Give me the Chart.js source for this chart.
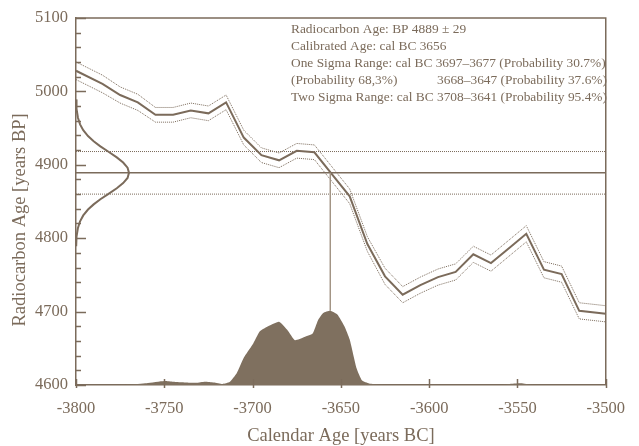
<!DOCTYPE html>
<html>
<head>
<meta charset="utf-8">
<script src="https://cdn.jsdelivr.net/npm/chart.js@4.4.1/dist/chart.umd.min.js"></script>
<style>
  html, body { margin: 0; padding: 0; background: #fff; }
  #wrap { width: 639px; height: 446px; }
</style>
</head>
<body>
<div id="wrap"><canvas id="calChart" width="639" height="446"></canvas></div>
<script>
// calibration curve (cal BC as negative years) with its 1-sigma band
const calYears = [-3800, -3785, -3775, -3765, -3755, -3745, -3735, -3725, -3715, -3705,
                  -3695, -3685, -3675, -3665, -3655, -3645, -3635, -3625, -3615, -3605,
                  -3595, -3585, -3575, -3565, -3555, -3545, -3535, -3525, -3515, -3500];
const calAge = [5028, 5010, 4995, 4985, 4968, 4968, 4974, 4970, 4985, 4937,
                4913, 4906, 4919, 4917, 4887, 4857, 4792, 4748, 4723, 4736,
                4747, 4754, 4778, 4766, 4786, 4806, 4757, 4751, 4701, 4697];
const calSigma = [12, 12, 11, 11, 10, 10, 10, 10, 10, 10,
                  10, 10, 10, 10, 10, 10, 10, 11, 11, 11,
                  11, 11, 11, 11, 11, 11, 11, 11, 11, 11];

// measured sample
const measuredAge = 4889;
const measuredSigma = 29;
const calibratedYear = -3656;

// normal distribution of the measurement, drawn against the y axis (width in years)
const gaussAges  = [4989, 4976, 4964, 4955, 4947, 4939, 4932, 4925, 4918, 4910, 4903, 4896, 4889,
                    4882, 4875, 4868, 4860, 4853, 4846, 4839, 4831, 4823, 4814, 4802, 4789];
const gaussWidth = [0.1, 0.3, 1.1, 2.3, 4.1, 6.8, 10.0, 13.8, 18.2, 23.1, 26.7, 29.2, 30.0,
                    29.2, 26.7, 23.1, 18.2, 13.8, 10.0, 6.8, 4.1, 2.3, 1.1, 0.3, 0.1];

// calibrated probability distribution (height above the axis, in BP units)
const densityYears = [-3800, -3780, -3770, -3760, -3750, -3745, -3738, -3732, -3727, -3722,
                      -3717, -3713, -3709, -3705, -3700, -3696, -3692, -3685, -3680, -3676,
                      -3671, -3666, -3663, -3660, -3656, -3652, -3648, -3645, -3641, -3638,
                      -3634, -3628, -3620, -3560, -3555, -3548, -3542, -3538, -3500];
const densityHeight = [0, 0, 0.8, 2.5, 5.5, 4.5, 3.5, 3, 4.5, 3.5,
                       1.5, 4, 16, 37, 55, 73, 79, 86, 74, 61,
                       65, 70, 88, 98, 101, 96, 80, 62, 22, 6,
                       2, 0.5, 0, 0, 1.5, 2.5, 0.5, 0, 0];

const yTicks = [4600, 4700, 4800, 4900, 5000, 5100];
const xTicks = [-3800, -3750, -3700, -3650, -3600, -3550, -3500];

const yTitle = 'Radiocarbon Age [years BP]';
const xTitle = 'Calendar Age [years BC]';
const infoLines = [
  'Radiocarbon Age: BP 4889 \u00b1 29',
  'Calibrated Age: cal BC 3656',
  'One Sigma Range: cal BC 3697\u20133677 (Probability 30.7%)',
  '(Probability 68,3%)',
  'Two Sigma Range: cal BC 3708\u20133641 (Probability 95.4%)'
];
const infoSecondRange = '3668\u20133647 (Probability 37.6%)';

const ink = '#7b6b5b';
const fillInk = '#7f705f';
const serif = '"Liberation Serif", "DejaVu Serif", serif';

const pts = (xs, ys) => xs.map((x, i) => ({ x: x, y: ys[i] }));
const xMin = -3800, xMax = -3500, yMin = 4600, yMax = 5100;

// inside ticks, top/right frame, y title and the text block
const frame = {
  id: 'frame',
  afterDraw(chart) {
    const ctx = chart.ctx;
    const a = chart.chartArea;
    const xs = chart.scales.x, ys = chart.scales.y;
    ctx.save();
    ctx.strokeStyle = ink;
    ctx.lineWidth = 1.5;
    ctx.beginPath();
    ctx.moveTo(a.left, a.top); ctx.lineTo(a.right, a.top); ctx.lineTo(a.right, a.bottom);
    ctx.stroke();
    ctx.beginPath();
    for (let v = yMin; v <= yMax; v += 20) {
      const py = Math.round(ys.getPixelForValue(v)) + 0.5;
      const len = v % 100 === 0 ? 10 : 5;
      ctx.moveTo(a.left, py); ctx.lineTo(a.left + len, py);
    }
    xTicks.forEach(v => {
      const px = Math.round(xs.getPixelForValue(v)) + 0.5;
      ctx.moveTo(px, a.bottom + 3); ctx.lineTo(px, a.bottom - 6);
    });
    ctx.stroke();

    ctx.fillStyle = ink;
    ctx.textBaseline = 'middle';
    ctx.textAlign = 'center';
    ctx.font = '18.5px ' + serif;
    ctx.save();
    ctx.translate(20, a.top + 202);
    ctx.rotate(-Math.PI / 2);
    ctx.fillText(yTitle, 0, 0);
    ctx.restore();

    ctx.font = '13.4px ' + serif;
    ctx.textAlign = 'left';
    const tx = a.left + 215;
    infoLines.forEach((t, i) => ctx.fillText(t, tx, a.top + 12 + i * 17));
    ctx.fillText(infoSecondRange, a.left + 361, a.top + 12 + 3 * 17);
    ctx.restore();
  }
};

const plainTick = v => String(v);

new Chart(document.getElementById('calChart'), {
  type: 'scatter',
  data: {
    datasets: [
      {
        label: 'Probability',
        data: pts(densityYears, densityHeight.map(h => yMin + h)),
        showLine: true,
        borderWidth: 0,
        borderColor: fillInk,
        backgroundColor: fillInk,
        fill: { value: yMin },
        pointRadius: 0,
        tension: 0.15
      },
      {
        label: 'Calibrated age',
        data: [{ x: calibratedYear, y: measuredAge }, { x: calibratedYear, y: yMin + Math.max(...densityHeight) }],
        showLine: true,
        borderColor: '#a39585',
        borderWidth: 1.5,
        pointRadius: 0
      },
      {
        label: 'Measured age',
        data: [{ x: xMin, y: measuredAge }, { x: xMax, y: measuredAge }],
        showLine: true,
        borderColor: ink,
        borderWidth: 1.6,
        pointRadius: 0
      },
      {
        label: '+1 sigma',
        data: [{ x: xMin, y: measuredAge + measuredSigma }, { x: xMax, y: measuredAge + measuredSigma }],
        showLine: true,
        borderColor: ink,
        borderWidth: 1,
        borderDash: [1, 1],
        pointRadius: 0
      },
      {
        label: '-1 sigma',
        data: [{ x: xMin, y: measuredAge - measuredSigma }, { x: xMax, y: measuredAge - measuredSigma }],
        showLine: true,
        borderColor: ink,
        borderWidth: 1,
        borderDash: [1, 1],
        pointRadius: 0
      },
      {
        label: 'Curve upper',
        data: pts(calYears, calAge.map((v, i) => v + calSigma[i])),
        showLine: true,
        borderColor: ink,
        borderWidth: 1,
        borderDash: [1, 1],
        pointRadius: 0
      },
      {
        label: 'Curve lower',
        data: pts(calYears, calAge.map((v, i) => v - calSigma[i])),
        showLine: true,
        borderColor: ink,
        borderWidth: 1,
        borderDash: [1, 1],
        pointRadius: 0
      },
      {
        label: 'Calibration curve',
        data: pts(calYears, calAge),
        showLine: true,
        borderColor: ink,
        borderWidth: 2,
        pointRadius: 0
      },
      {
        label: 'Measurement',
        data: gaussAges.map((a, i) => ({ x: xMin + gaussWidth[i], y: a })),
        showLine: true,
        borderColor: ink,
        borderWidth: 2,
        pointRadius: 0,
        tension: 0
      }
    ]
  },
  options: {
    responsive: false,
    animation: false,
    layout: { padding: { left: 0, right: 22, top: 16, bottom: 0 } },
    plugins: {
      legend: { display: false },
      tooltip: { enabled: false }
    },
    scales: {
      x: {
        type: 'linear',
        min: xMin,
        max: xMax,
        afterFit(scale) { scale.height = 61; },
        afterBuildTicks(scale) { scale.ticks = xTicks.map(v => ({ value: v })); },
        grid: { display: false, drawTicks: false },
        border: { display: true, color: ink, width: 1.5 },
        ticks: { color: ink, padding: 14, callback: plainTick, font: { family: serif, size: 16.5 } },
        title: { display: true, text: xTitle, color: ink,
                 padding: { top: 0, bottom: 1 }, font: { family: serif, size: 18.5, lineHeight: 1 } }
      },
      y: {
        type: 'linear',
        min: yMin,
        max: yMax,
        afterFit(scale) { scale.width = 76; },
        afterBuildTicks(scale) { scale.ticks = yTicks.map(v => ({ value: v })); },
        grid: { display: false, drawTicks: false },
        border: { display: true, color: ink, width: 1.5 },
        ticks: { color: ink, padding: 8, callback: plainTick, font: { family: serif, size: 16.5 } },
        title: { display: false }
      }
    }
  },
  plugins: [frame]
});
</script>
</body>
</html>
